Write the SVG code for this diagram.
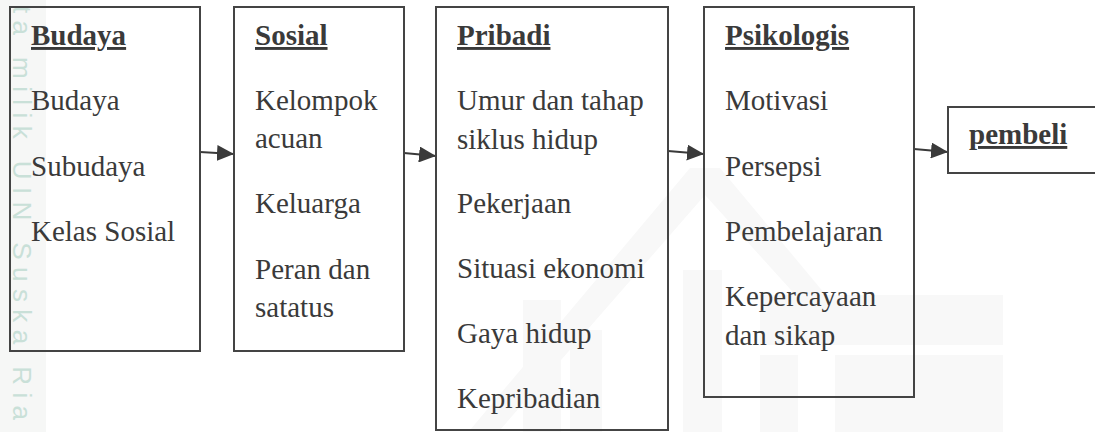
<svg xmlns="http://www.w3.org/2000/svg" width="1095" height="432" viewBox="0 0 1095 432">
<defs>
<style>
.box{fill:none;stroke:#444;stroke-width:2}
.t{font-family:"Liberation Serif","Times New Roman",serif;font-size:29px;fill:#3a3a3a}
.h{font-weight:bold;text-decoration:underline}
.conn{stroke:#3a3a3a;stroke-width:2;fill:none}
.wm{fill:#f8f8f8}
</style>
<marker id="ah" markerUnits="userSpaceOnUse" markerWidth="18" markerHeight="16" refX="17" refY="8" orient="auto">
<path d="M0,0 L17,8 L0,16 Z" fill="#3a3a3a"/>
</marker>
</defs>
<rect width="1095" height="432" fill="#fff"/>
<g id="watermark">
<rect x="0" y="0" width="46" height="432" fill="#f6f7f6"/>
<polygon class="wm" points="690,168 720,168 830,300 800,300 705,195 500,430 470,430"/>
<rect class="wm" x="523" y="300" width="38" height="132"/>
<rect class="wm" x="570" y="330" width="32" height="102"/>
<rect class="wm" x="683" y="270" width="39" height="162"/>
<rect class="wm" x="760" y="295" width="243" height="50"/>
<rect class="wm" x="760" y="355" width="38" height="77"/>
<rect class="wm" x="835" y="355" width="168" height="77"/>
<text transform="translate(13,6) rotate(90)" font-family="Liberation Sans, Arial, sans-serif" font-size="26" letter-spacing="7.4" fill="#c9e0d8">ta milik UIN Suska Ria</text>
</g>
<g id="connectors">
<line class="conn" x1="200" y1="152" x2="234" y2="154" marker-end="url(#ah)"/>
<line class="conn" x1="404" y1="153" x2="436" y2="156" marker-end="url(#ah)"/>
<line class="conn" x1="668" y1="151" x2="704" y2="154" marker-end="url(#ah)"/>
<line class="conn" x1="914" y1="149" x2="948" y2="152" marker-end="url(#ah)"/>
</g>
<g id="budaya">
<rect class="box" x="10" y="7" width="190" height="344"/>
<text class="t h" x="31" y="45">Budaya</text>
<text class="t" x="31" y="110">Budaya</text>
<text class="t" x="31" y="176">Subudaya</text>
<text class="t" x="31" y="241">Kelas Sosial</text>
</g>
<g id="sosial">
<rect class="box" x="234" y="7" width="170" height="344"/>
<text class="t h" x="255" y="45">Sosial</text>
<text class="t" x="255" y="110">Kelompok</text>
<text class="t" x="255" y="148">acuan</text>
<text class="t" x="255" y="213">Keluarga</text>
<text class="t" x="255" y="279">Peran dan</text>
<text class="t" x="255" y="317">satatus</text>
</g>
<g id="pribadi">
<rect class="box" x="436" y="7" width="232" height="423"/>
<text class="t h" x="457" y="45">Pribadi</text>
<text class="t" x="457" y="110">Umur dan tahap</text>
<text class="t" x="457" y="149">siklus hidup</text>
<text class="t" x="457" y="213">Pekerjaan</text>
<text class="t" x="457" y="278">Situasi ekonomi</text>
<text class="t" x="457" y="343">Gaya hidup</text>
<text class="t" x="457" y="408">Kepribadian</text>
</g>
<g id="psikologis">
<rect class="box" x="704" y="7" width="210" height="390"/>
<text class="t h" x="725" y="45">Psikologis</text>
<text class="t" x="725" y="110">Motivasi</text>
<text class="t" x="725" y="176">Persepsi</text>
<text class="t" x="725" y="241">Pembelajaran</text>
<text class="t" x="725" y="306">Kepercayaan</text>
<text class="t" x="725" y="345">dan sikap</text>
</g>
<g id="pembeli">
<rect class="box" x="948" y="107" width="160" height="66"/>
<text class="t h" x="969" y="144">pembeli</text>
</g>
</svg>
